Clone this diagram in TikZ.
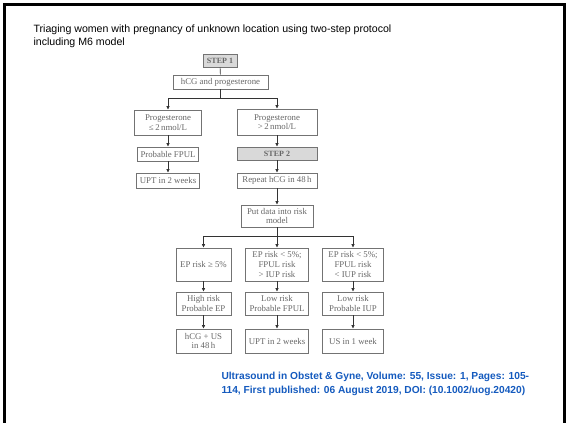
\documentclass[tikz,border=0pt]{standalone}
\usepackage{fontspec}
\setmainfont{Liberation Serif}
\newfontfamily\sansfont{Liberation Sans}
\usetikzlibrary{arrows.meta}

\definecolor{citeblue}{RGB}{20,90,190}
\definecolor{boxgray}{RGB}{217,217,217}

\begin{document}
\begin{tikzpicture}[x=1pt,y=-1pt,
    every node/.style={font=\fontsize{8.8}{9.6}\selectfont, text=black!60},
    box/.style={draw=black!55, line width=0.6pt, align=center, inner sep=1pt},
    stepbox/.style={box, fill=boxgray, font=\fontsize{8}{9}\selectfont\bfseries},
    arr/.style={-{Latex[length=3.5pt,width=3.5pt]}, black!80, line width=0.6pt},
    link/.style={black!80, line width=0.6pt}]

    % Page size and frame
    \useasboundingbox (0,0) rectangle (566,423);
    \draw[line width=3pt] (4.5,423) -- (4.5,4.5) -- (564,4.5) -- (564,423);

    % Column positions
    \def\colL{168}
    \def\colR{277}

    % Title
    \node[anchor=west, align=left, text=black,
          font=\sansfont\fontsize{10.6}{13}\selectfont] (title) at (30,36.5)
        {Triaging women with pregnancy of unknown location using two-step protocol\\including M6 model};

    % Step 1
    \node[stepbox, minimum width=34, minimum height=13] (step1) at (220,60.5) {STEP 1};
    \node[box, minimum width=95, minimum height=14] (hcg) at (220.5,82) {hCG and progesterone};

    % Left column
    \node[box, minimum width=67, minimum height=25] (plow) at (\colL,122.5) {Progesterone\\≤\,2\,nmol/L};
    \node[box, minimum width=61, minimum height=14] (fpul) at (\colL,154) {Probable FPUL};
    \node[box, minimum width=63, minimum height=15] (upta) at (\colL,180.5) {UPT in 2 weeks};

    % Right column
    \node[box, minimum width=80, minimum height=26] (phigh) at (\colR,122) {Progesterone\\>\,2\,nmol/L};
    \node[stepbox, minimum width=80, minimum height=13] (step2) at (\colR,153.5) {STEP 2};
    \node[box, minimum width=80, minimum height=15] (repeat) at (\colR,180.5) {Repeat hCG in 48\,h};
    \node[box, minimum width=72, minimum height=22] (model) at (\colR,216) {Put data into risk\\model};

    % Risk groups
    \node[box, minimum width=55, minimum height=33] (epa) at (203.5,264.5) {EP risk ≥ 5\%};
    \node[box, minimum width=63, minimum height=33] (epb) at (\colR,264.5) {EP risk < 5\%;\\FPUL risk\\> IUP risk};
    \node[box, minimum width=61, minimum height=33] (epc) at (353,264.5) {EP risk < 5\%;\\FPUL risk\\< IUP risk};

    \node[box, minimum width=55, minimum height=23] (riska) at (203.5,303.5) {High risk\\Probable EP};
    \node[box, minimum width=63, minimum height=23] (riskb) at (\colR,303.5) {Low risk\\Probable FPUL};
    \node[box, minimum width=61, minimum height=23] (riskc) at (353,303.5) {Low risk\\Probable IUP};

    \node[box, minimum width=55, minimum height=24] (acta) at (203.5,341) {hCG + US\\in 48\,h};
    \node[box, minimum width=63, minimum height=24] (actb) at (\colR,341) {UPT in 2 weeks};
    \node[box, minimum width=61, minimum height=24] (actc) at (353,341) {US in 1 week};

    % Branch points
    \coordinate (splita) at (220.5,98);
    \coordinate (splitb) at (\colR,236);

    % Connectors
    \draw[link] (step1) -- (hcg);
    \draw[link] (hcg) -- (splita);
    \draw[arr] (splita) -| (plow);
    \draw[arr] (splita) -| (phigh);
    \draw[arr] (plow) -- (fpul);
    \draw[arr] (fpul) -- (upta);
    \draw[arr] (phigh) -- (step2);
    \draw[arr] (step2) -- (repeat);
    \draw[arr] (repeat) -- (model);
    \draw[link] (model) -- (splitb);
    \draw[arr] (splitb) -| (epa);
    \draw[arr] (splitb) -- (epb);
    \draw[arr] (splitb) -| (epc);
    \foreach \c in {a,b,c} {
        \draw[arr] (ep\c) -- (risk\c);
        \draw[arr] (risk\c) -- (act\c);
    }

    % Source
    \node[anchor=west, align=left, text=citeblue,
          font=\sansfont\bfseries\fontsize{10.2}{14}\selectfont] (source) at (218,383.5)
        {Ultrasound in Obstet \& Gyne, Volume: 55, Issue: 1, Pages: 105-\\114, First published: 06 August 2019, DOI: (10.1002/uog.20420)};

\end{tikzpicture}
\end{document}
